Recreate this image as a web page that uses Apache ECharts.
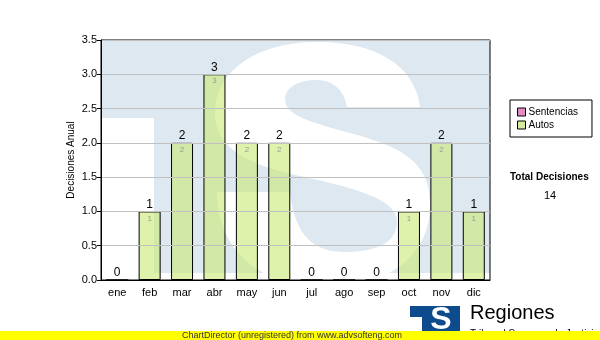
<!DOCTYPE html>
<html><head><meta charset="utf-8">
<script src="https://cdn.jsdelivr.net/npm/echarts@6/dist/echarts.min.js"></script>
<style>html,body{margin:0;padding:0;background:#fff}#c{width:600px;height:340px}</style>
</head><body><div id="c"></div>
<script>
const categories = ['ene','feb','mar','abr','may','jun','jul','ago','sep','oct','nov','dic'];
const autos = [0,1,2,3,2,2,0,0,0,1,2,1];
const sentencias = [0,0,0,0,0,0,0,0,0,0,0,0];
const yTicks = {min:0, max:3.5, interval:0.5};
const total = autos.reduce((a,b)=>a+b,0) + sentencias.reduce((a,b)=>a+b,0);

const FONT = 'Liberation Sans';
// watermark "S" outline (decoration): start point, then cubic segments [c1x,c1y,c2x,c2y,x,y] or line [x,y]
const S_SEGS = [[420,107],
  [415,65,375,42,318,42],[255,42,215,72,215,112],[215,150,250,165,300,176],
  [360,189,397,200,397,222],[397,243,375,252,345,252],[315,252,295,238,290,192],[217,192],
  [217,250,260,287,325,287],[390,287,430,255,430,205],[430,160,400,147,350,133],
  [305,121,285,114,285,99],[285,87,300,80,316,80],[333,80,344,90,347,107]];
function outline(segs){
  const pts=[segs[0].slice()]; let cur=segs[0];
  for(let k=1;k<segs.length;k++){
    const s=segs[k];
    if(s.length===2){pts.push(s.slice()); cur=s; continue;}
    for(let i=1;i<=16;i++){const t=i/16,u=1-t;
      pts.push([u*u*u*cur[0]+3*u*u*t*s[0]+3*u*t*t*s[2]+t*t*t*s[4],
                u*u*u*cur[1]+3*u*u*t*s[1]+3*u*t*t*s[3]+t*t*t*s[5]]);}
    cur=[s[4],s[5]];
  }
  return pts;
}

const chart = echarts.init(document.getElementById('c'), null, {renderer:'canvas'});
chart.setOption({
  animation:false,
  backgroundColor:'#fff',
  textStyle:{fontFamily:FONT},
  grid:{left:101, top:40, right:110, bottom:60, show:true, borderColor:'#000', borderWidth:1, backgroundColor:'transparent', z:3},
  legend:{
    orient:'vertical', left:510, top:100,
    backgroundColor:'#fff', borderColor:'#000', borderWidth:1,
    padding:[7,14,7,7], itemGap:3, itemWidth:8, itemHeight:8,
    textStyle:{fontFamily:FONT, fontSize:10, color:'#000', padding:[0,0,0,-2]},
    icon:'rect',
    data:[
      {name:'Sentencias', itemStyle:{color:'#e38bc7', borderColor:'#000', borderWidth:1}},
      {name:'Autos', itemStyle:{color:'#d6ec9c', borderColor:'#000', borderWidth:1}}
    ]
  },
  xAxis:{
    type:'category', data:categories,
    axisLine:{lineStyle:{color:'#000'}},
    axisTick:{alignWithLabel:true, length:4, lineStyle:{color:'#000'}},
    axisLabel:{fontFamily:FONT, fontSize:11, color:'#000', margin:7},
    z:5
  },
  yAxis:{
    type:'value', min:yTicks.min, max:yTicks.max, interval:yTicks.interval,
    name:'Decisiones Anual', nameLocation:'middle', nameGap:25, nameMoveOverlap:false,
    nameTextStyle:{fontFamily:FONT, fontSize:10, color:'#000'},
    axisLine:{show:true, lineStyle:{color:'#000'}},
    axisTick:{show:true, length:4, lineStyle:{color:'#000'}},
    axisLabel:{fontFamily:FONT, fontSize:11, color:'#000', margin:4, formatter:v=>v.toFixed(1)},
    splitLine:{lineStyle:{color:'#c0c0c0', width:1}},
    z:5
  },
  series:[
    {
      name:'Autos', type:'bar', stack:'t', data:autos, barWidth:22,
      itemStyle:{color:'rgba(200,232,112,0.58)', borderColor:'#000', borderWidth:1},
      label:{show:true, position:'insideTop', distance:3, fontSize:8, color:'#999',
        formatter:p=>p.value ? String(p.value) : ''},
      z:4
    },
    {
      name:'Sentencias', type:'bar', stack:'t', data:sentencias, barWidth:22,
      itemStyle:{color:'#e38bc7', borderWidth:0},
      label:{show:true, position:'top', distance:1, fontSize:12, color:'#000',
        formatter:p=>String(autos[p.dataIndex]+sentencias[p.dataIndex])},
      z:4
    }
  ],
  graphic:[
    {type:'group', z:0, silent:true, children:[
      {type:'rect', shape:{x:101,y:40,width:389,height:233}, style:{fill:'#dee8f1'}},
      {type:'rect', shape:{x:101,y:118,width:53,height:155}, style:{fill:'#fff'}},
      {type:'polygon', shape:{points:outline(S_SEGS)}, style:{fill:'#fff'}}
    ]},
    {type:'text', left:510, top:172, style:{text:'Total Decisiones', font:'bold 10px "Liberation Sans"', fill:'#000'}},
    {type:'text', left:544, top:190, style:{text:String(total), font:'11px "Liberation Sans"', fill:'#000'}},
    {type:'rect', shape:{x:410,y:306,width:50,height:28}, style:{fill:'#0d4b8c'}},
    {type:'rect', shape:{x:410,y:317,width:12,height:17}, style:{fill:'#fff'}},
    {type:'text', x:441, y:320, style:{text:'S', font:'bold 32px "Liberation Sans"', fill:'#fff', textAlign:'center', textVerticalAlign:'middle'}},
    {type:'text', left:470, top:303, style:{text:'Regiones', font:'20px "Liberation Sans"', fill:'#000'}},
    {type:'text', left:470, top:329, style:{text:'Tribunal Supremo de Justicia', font:'10px "Liberation Sans"', fill:'#000'}},
    {type:'rect', z:10, shape:{x:0,y:331,width:600,height:9}, style:{fill:'#ffff00'}},
    {type:'text', z:11, x:292, y:336, style:{text:'ChartDirector (unregistered) from www.advsofteng.com', font:'9px "Liberation Sans"', fill:'#333', textAlign:'center', textVerticalAlign:'middle'}}
  ]
});
</script></body></html>
